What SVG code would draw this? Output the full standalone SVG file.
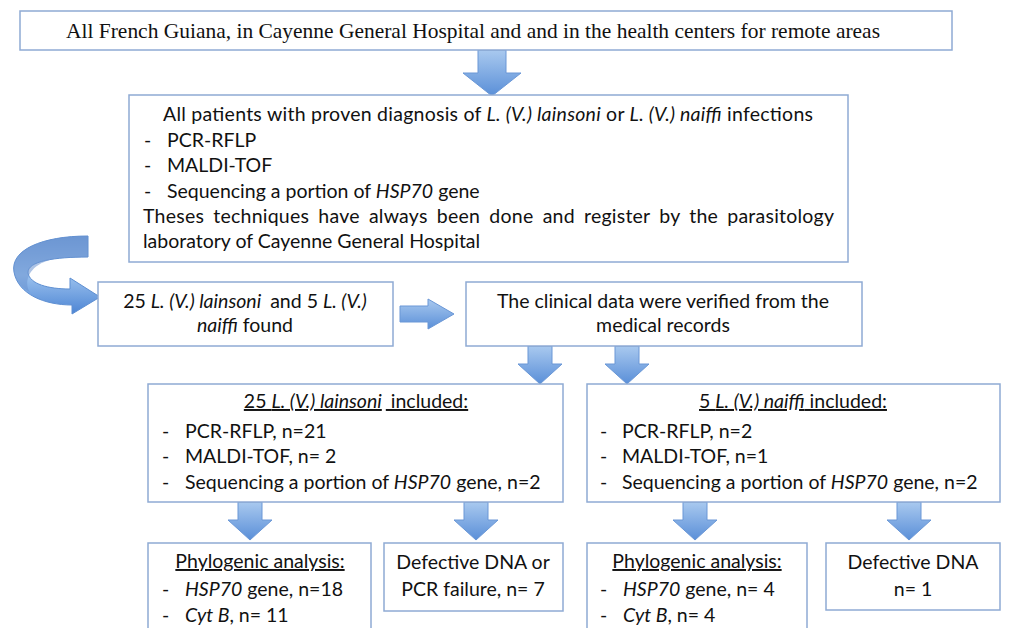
<svg xmlns="http://www.w3.org/2000/svg" width="1010" height="628" viewBox="0 0 1010 628">
  <defs>
    <linearGradient id="arrowFillV" x1="0" y1="0" x2="0" y2="1">
      <stop offset="0" stop-color="#a9c9ef"/>
      <stop offset="1" stop-color="#5a8fd8"/>
    </linearGradient>
    <linearGradient id="curlFill" x1="0" y1="0" x2="0" y2="1">
      <stop offset="0" stop-color="#6d99d6"/>
      <stop offset="0.5" stop-color="#9cc2ee"/>
      <stop offset="1" stop-color="#4d85d4"/>
    </linearGradient>
    <path id="downArrow" d="M -12,0 L 12,0 L 12,18 L 22,18 L 0,38 L -22,18 L -12,18 Z"/>
  </defs>
  <style>
    .box { fill: #ffffff; stroke: #8faad4; stroke-width: 1.5; }
    .t { font-family: Lato, Carlito, "Liberation Sans", sans-serif; font-size: 19.5px; fill: #111111; }
    .serif { font-family: "Liberation Serif", "Times New Roman", serif; font-size: 22px; fill: #111111; }
    .c { text-anchor: middle; }
    .i { font-style: italic; }
    .u { text-decoration: underline; }
    .arrow { fill: url(#arrowFillV); stroke: #6a97d6; stroke-width: 1; }
  </style>
  <rect width="1010" height="628" fill="#ffffff"/>

  <!-- connectors -->
  <g id="connectors">
    <!-- top down arrow -->
    <path class="arrow" d="M 478,50 L 506,50 L 506,73 L 521,73 L 492,96 L 463,73 L 478,73 Z"/>
    <!-- curled arrow on the left -->
    <path fill="url(#curlFill)" stroke="#5e8fd2" stroke-width="1" d="M 88,236 C 42,236 10,250 14,272 C 18,294 44,305 72,305 L 72,314 L 100,297 L 70,278 L 70,289 C 48,289 30,284 28,273 C 27,261 55,257 88,257 Z"/>
    <path fill="#6b94cf" opacity="0.55" d="M 88,236 C 42,236 10,250 14,272 C 16,282 22,288 30,292 C 24,286 25,262 60,258 L 88,257 Z"/>
    <!-- right arrow between found and clinical data -->
    <path class="arrow" d="M 400,306 L 428,306 L 428,299 L 454,314 L 428,329 L 428,322 L 400,322 Z"/>
    <!-- arrows below clinical data -->
    <use href="#downArrow" class="arrow" transform="translate(540,346)"/>
    <use href="#downArrow" class="arrow" transform="translate(627,346)"/>
    <!-- arrows below included boxes -->
    <use href="#downArrow" class="arrow" transform="translate(250,502)"/>
    <use href="#downArrow" class="arrow" transform="translate(476,502)"/>
    <use href="#downArrow" class="arrow" transform="translate(695,502)"/>
    <use href="#downArrow" class="arrow" transform="translate(909,502)"/>
  </g>

  <!-- setting -->
  <g id="node-setting">
    <rect class="box" x="20" y="11" width="932" height="39"/>
    <text class="serif" x="66" y="38" textLength="814" lengthAdjust="spacingAndGlyphs">All French Guiana, in Cayenne General Hospital and and in the health centers for remote areas</text>
  </g>

  <!-- inclusion criteria -->
  <g id="node-patients">
    <rect class="box" x="129" y="95" width="719" height="167"/>
    <text class="t" x="163" y="121" textLength="650" lengthAdjust="spacing">All patients with proven diagnosis of <tspan class="i">L. (V.) lainsoni</tspan> or <tspan class="i">L. (V.) naiffi</tspan> infections</text>
    <text class="t" x="144" y="147">-</text>
    <text class="t" x="167" y="147">PCR-RFLP</text>
    <text class="t" x="144" y="172">-</text>
    <text class="t" x="167" y="172">MALDI-TOF</text>
    <text class="t" x="144" y="198">-</text>
    <text class="t" x="167" y="198">Sequencing a portion of <tspan class="i">HSP70</tspan> gene</text>
    <text class="t" x="143" y="223" textLength="691" lengthAdjust="spacing" word-spacing="4">Theses techniques have always been done and register by the parasitology</text>
    <text class="t" x="143" y="248">laboratory of Cayenne General Hospital</text>
  </g>

  <!-- species found -->
  <g id="node-found">
    <rect class="box" x="98" y="282" width="295" height="64"/>
    <text class="t c" x="245" y="308">25 <tspan class="i">L. (V.) lainsoni</tspan><tspan dx="4"> and 5 </tspan><tspan class="i">L. (V.)</tspan></text>
    <text class="t c" x="245" y="332"><tspan class="i">naiffi</tspan> found</text>
  </g>

  <!-- clinical data -->
  <g id="node-clinical">
    <rect class="box" x="466" y="282" width="396" height="64"/>
    <text class="t c" x="663" y="308">The clinical data were verified from the</text>
    <text class="t c" x="663" y="332">medical records</text>
  </g>

  <!-- lainsoni included -->
  <g id="node-lainsoni">
    <rect class="box" x="148" y="384" width="415" height="118"/>
    <text class="t c u" x="356" y="408">25 <tspan class="i">L. (V.) lainsoni</tspan><tspan dx="4"> included:</tspan></text>
    <text class="t" x="162" y="438">-</text>
    <text class="t" x="185" y="438">PCR-RFLP, n=21</text>
    <text class="t" x="162" y="463">-</text>
    <text class="t" x="185" y="463">MALDI-TOF, n= 2</text>
    <text class="t" x="162" y="489">-</text>
    <text class="t" x="185" y="489">Sequencing a portion of <tspan class="i">HSP70</tspan> gene, n=2</text>
  </g>

  <!-- naiffi included -->
  <g id="node-naiffi">
    <rect class="box" x="587" y="384" width="413" height="118"/>
    <text class="t c u" x="793" y="408">5 <tspan class="i">L. (V.) naiffi</tspan> included:</text>
    <text class="t" x="600" y="438">-</text>
    <text class="t" x="622" y="438">PCR-RFLP, n=2</text>
    <text class="t" x="600" y="463">-</text>
    <text class="t" x="622" y="463">MALDI-TOF, n=1</text>
    <text class="t" x="600" y="489">-</text>
    <text class="t" x="622" y="489">Sequencing a portion of <tspan class="i">HSP70</tspan> gene, n=2</text>
  </g>

  <!-- lainsoni phylogeny -->
  <g id="node-lainsoni-phylo">
    <rect class="box" x="148" y="543" width="223" height="95"/>
    <text class="t c u" x="260" y="568">Phylogenic analysis:</text>
    <text class="t" x="162" y="596">-</text>
    <text class="t" x="185" y="596"><tspan class="i">HSP70</tspan> gene, n=18</text>
    <text class="t" x="162" y="622">-</text>
    <text class="t" x="185" y="622"><tspan class="i">Cyt B</tspan>, n= 11</text>
  </g>

  <!-- lainsoni failures -->
  <g id="node-lainsoni-defective">
    <rect class="box" x="384" y="543" width="179" height="68"/>
    <text class="t c" x="473" y="569">Defective DNA or</text>
    <text class="t c" x="473" y="596">PCR failure, n= 7</text>
  </g>

  <!-- naiffi phylogeny -->
  <g id="node-naiffi-phylo">
    <rect class="box" x="587" y="543" width="220" height="95"/>
    <text class="t c u" x="697" y="568">Phylogenic analysis:</text>
    <text class="t" x="600" y="596">-</text>
    <text class="t" x="623" y="596"><tspan class="i">HSP70</tspan> gene, n= 4</text>
    <text class="t" x="600" y="622">-</text>
    <text class="t" x="623" y="622"><tspan class="i">Cyt B</tspan>, n= 4</text>
  </g>

  <!-- naiffi failure -->
  <g id="node-naiffi-defective">
    <rect class="box" x="826" y="543" width="174" height="67"/>
    <text class="t c" x="913" y="569">Defective DNA</text>
    <text class="t c" x="913" y="596">n= 1</text>
  </g>
</svg>
